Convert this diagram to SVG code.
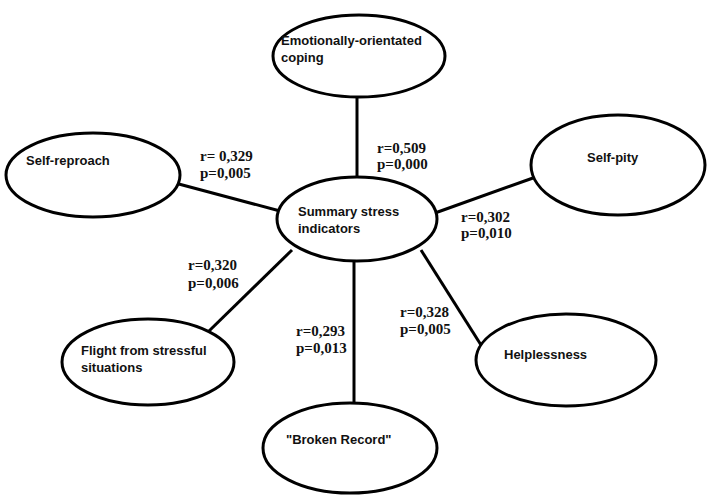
<svg xmlns="http://www.w3.org/2000/svg" width="712" height="496" viewBox="0 0 712 496">
<style>
.node{fill:#fff;stroke:#000;stroke-width:3}
.lbl{font-family:"Liberation Sans",Arial,sans-serif;font-weight:bold;font-size:13px;fill:#111}
.stat{font-family:"Liberation Serif","Times New Roman",serif;font-weight:bold;font-size:15px;fill:#111}
.conn line{stroke:#000;stroke-width:3}
</style>
<rect width="712" height="496" fill="#fff"/>
<g id="connectors" class="conn">
<line x1="357" y1="97" x2="357" y2="178"/>
<line x1="175" y1="183" x2="280" y2="211"/>
<line x1="435" y1="213" x2="533" y2="178"/>
<line x1="292" y1="250" x2="208" y2="332"/>
<line x1="354" y1="261" x2="354" y2="404"/>
<line x1="421" y1="250" x2="481" y2="345"/>
</g>
<g id="node-emotional">
<ellipse class="node" cx="359" cy="56" rx="86" ry="41"/>
<text class="lbl" x="281" y="45">Emotionally-orientated</text>
<text class="lbl" x="281" y="62">coping</text>
</g>
<g id="node-summary">
<ellipse class="node" cx="357" cy="219" rx="80" ry="42"/>
<text class="lbl" x="298" y="216">Summary stress</text>
<text class="lbl" x="298" y="233">indicators</text>
</g>
<g id="node-selfreproach">
<ellipse class="node" cx="93" cy="175" rx="87" ry="42"/>
<text class="lbl" x="26" y="165">Self-reproach</text>
</g>
<g id="node-selfpity">
<ellipse class="node" cx="618" cy="165" rx="87" ry="50"/>
<text class="lbl" x="587" y="162">Self-pity</text>
</g>
<g id="node-flight">
<ellipse class="node" cx="148" cy="362" rx="86" ry="43"/>
<text class="lbl" x="81" y="355">Flight from stressful</text>
<text class="lbl" x="81" y="372">situations</text>
</g>
<g id="node-broken">
<ellipse class="node" cx="350" cy="448" rx="87" ry="45"/>
<text class="lbl" x="286" y="444">"Broken Record"</text>
</g>
<g id="node-helpless">
<ellipse class="node" cx="566" cy="360" rx="90" ry="46"/>
<text class="lbl" x="504" y="359">Helplessness</text>
</g>
<g id="stats">
<text class="stat" x="377" y="153">r=0,509</text>
<text class="stat" x="377" y="169">p=0,000</text>
<text class="stat" x="200" y="161">r= 0,329</text>
<text class="stat" x="200" y="178">p=0,005</text>
<text class="stat" x="461" y="222">r=0,302</text>
<text class="stat" x="461" y="238">p=0,010</text>
<text class="stat" x="188" y="270">r=0,320</text>
<text class="stat" x="188" y="288">p=0,006</text>
<text class="stat" x="296" y="336">r=0,293</text>
<text class="stat" x="296" y="353">p=0,013</text>
<text class="stat" x="400" y="317">r=0,328</text>
<text class="stat" x="400" y="334">p=0,005</text>
</g>
</svg>
